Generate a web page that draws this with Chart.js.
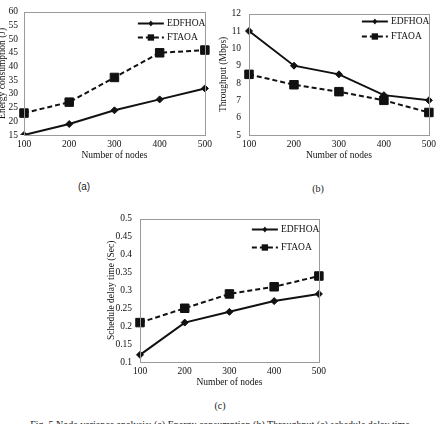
<!DOCTYPE html>
<html>
<head>
<meta charset="utf-8">
<script src="https://cdn.jsdelivr.net/npm/chart.js@4.4.1/dist/chart.umd.min.js"></script>
<style>
    html, body { margin: 0; padding: 0; background: #fff; }
    body { width: 440px; height: 424px; position: relative; overflow: hidden; }
    .box { position: absolute; }
    .tag { position: absolute; font: 10px "Liberation Sans", sans-serif; color: #222; transform: translateX(-50%); }
    .cap { position: absolute; left: 0; width: 440px; text-align: center; top: 419px; font: 10px "Liberation Serif", serif; color: #222; }
</style>
</head>
<body>
<div class="box" style="left:-3px;top:0;width:219px;height:161px"><canvas id="chartEnergy"></canvas></div>
<div class="box" style="left:218px;top:0;width:222px;height:161px"><canvas id="chartThroughput"></canvas></div>
<div class="box" style="left:106px;top:205px;width:224px;height:183px"><canvas id="chartDelay"></canvas></div>
<div class="tag" style="left:84px;top:181px">(a)</div>
<div class="tag" style="left:318px;top:183px;font-family:'Liberation Serif',serif">(b)</div>
<div class="tag" style="left:220px;top:400px;font-family:'Liberation Serif',serif">(c)</div>
<div class="cap">Fig. 5 Node variance analysis: (a) Energy consumption (b) Throughput (c) schedule delay time</div>
<script>
const nodes = ['100', '200', '300', '400', '500'];

const energyEdfhoa = [15, 19, 24, 28, 32];
const energyFtaoa = [23, 27, 36, 45, 46];

const throughputEdfhoa = [11, 9, 8.5, 7.3, 7];
const throughputFtaoa = [8.5, 7.9, 7.5, 7.0, 6.3];

const delayEdfhoa = [0.12, 0.21, 0.24, 0.27, 0.29];
const delayFtaoa = [0.21, 0.25, 0.29, 0.31, 0.34];

const seriesNames = ['EDFHOA', 'FTAOA'];

const font = { family: '"Liberation Serif", serif', size: 9.5 };
const ink = '#111';

// grey frame round the plot area
const frame = {
    id: 'frame',
    afterDraw(chart) {
        const { ctx, chartArea: a } = chart;
        ctx.save();
        ctx.strokeStyle = '#9a9a9a';
        ctx.lineWidth = 1;
        ctx.strokeRect(Math.round(a.left) + 0.5, Math.round(a.top) + 0.5, Math.round(a.right - a.left), Math.round(a.bottom - a.top));
        ctx.restore();
    },
};

function marker(ctx, style, x, y, r) {
    ctx.beginPath();
    if (style === 'rect') {
        const s = r * Math.SQRT1_2;
        ctx.rect(x - s, y - s, 2 * s, 2 * s);
    } else {
        ctx.moveTo(x, y - r);
        ctx.lineTo(x + r * 0.8, y);
        ctx.lineTo(x, y + r);
        ctx.lineTo(x - r * 0.8, y);
        ctx.closePath();
    }
    ctx.fill();
}

// legend drawn inside the top-right corner of the plot
const innerLegend = {
    id: 'innerLegend',
    afterDraw(chart, args, opts) {
        const { ctx, chartArea: a } = chart;
        ctx.save();
        chart.data.datasets.forEach((ds, i) => {
            const y = Math.round(a.top + opts.rows[i]) + 0.5;
            const x0 = a.right - 67;
            const x1 = a.right - 41;
            ctx.strokeStyle = ink;
            ctx.fillStyle = ink;
            ctx.lineWidth = 2;
            ctx.setLineDash(ds.borderDash || []);
            ctx.beginPath();
            ctx.moveTo(x0, y);
            ctx.lineTo(x1, y);
            ctx.stroke();
            ctx.setLineDash([]);
            marker(ctx, ds.pointStyle, (x0 + x1) / 2, y, ds.pointStyle === 'rect' ? 4.5 : 3);
            ctx.font = '9.5px "Liberation Serif", serif';
            ctx.textBaseline = 'middle';
            ctx.fillText(ds.label, a.right - 38, y);
        });
        ctx.restore();
    },
};

function lineChart(id, a, b, y, pad) {
    const el = document.getElementById(id);
    return new Chart(el, {
        type: 'line',
        data: {
            labels: nodes,
            datasets: [
                {
                    label: seriesNames[0],
                    data: a,
                    borderColor: ink,
                    backgroundColor: ink,
                    borderWidth: 2,
                    pointStyle: 'rectRot',
                    pointRadius: 3.5,
                    pointBorderWidth: 1,
                    tension: 0,
                },
                {
                    label: seriesNames[1],
                    data: b,
                    borderColor: ink,
                    backgroundColor: ink,
                    borderWidth: 2,
                    borderDash: [5, 3],
                    pointStyle: 'rect',
                    pointRadius: 6,
                    pointBorderWidth: 1,
                    tension: 0,
                },
            ],
        },
        options: {
            responsive: true,
            maintainAspectRatio: false,
            animation: false,
            devicePixelRatio: 1,
            layout: { padding: { top: pad.top, right: pad.right, left: 0, bottom: 0 } },
            plugins: {
                legend: { display: false },
                tooltip: { enabled: false },
                innerLegend: { rows: pad.rows },
            },
            scales: {
                x: {
                    offset: false,
                    grid: { display: false, drawTicks: false },
                    border: { display: false },
                    ticks: { font, color: ink, padding: 4, maxRotation: 0, autoSkip: false },
                    title: { display: true, text: 'Number of nodes', font, color: ink, padding: 0 },
                    afterFit: (s) => { s.height = pad.xh; },
                },
                y: {
                    min: y.min,
                    max: y.max,
                    grid: { display: false, drawTicks: false },
                    border: { display: false },
                    ticks: {
                        stepSize: y.step,
                        autoSkip: false,
                        font,
                        color: ink,
                        padding: pad.tick,
                        callback: (v) => String(Number(v.toFixed(2))),
                    },
                    title: { display: true, text: y.title, font, color: ink, padding: 0 },
                    afterFit: (s) => { s.width = pad.yw; },
                },
            },
        },
        plugins: [frame, innerLegend],
    });
}

lineChart('chartEnergy', energyEdfhoa, energyFtaoa,
    { min: 15, max: 60, step: 5, title: 'Energy consumption (J)' },
    { top: 10, right: 9, xh: 26, yw: 27, tick: 6, rows: [11, 25] });

lineChart('chartThroughput', throughputEdfhoa, throughputFtaoa,
    { min: 5, max: 12, step: 1, title: 'Throughput (Mbps)' },
    { top: 9, right: 8, xh: 26, yw: 31, tick: 8, rows: [7, 22] });

lineChart('chartDelay', delayEdfhoa, delayFtaoa,
    { min: 0.1, max: 0.5, step: 0.05, title: 'Schedule delay time (Sec)' },
    { top: 10, right: 9, xh: 26, yw: 34, tick: 8, rows: [10, 28] });
</script>
</body>
</html>
